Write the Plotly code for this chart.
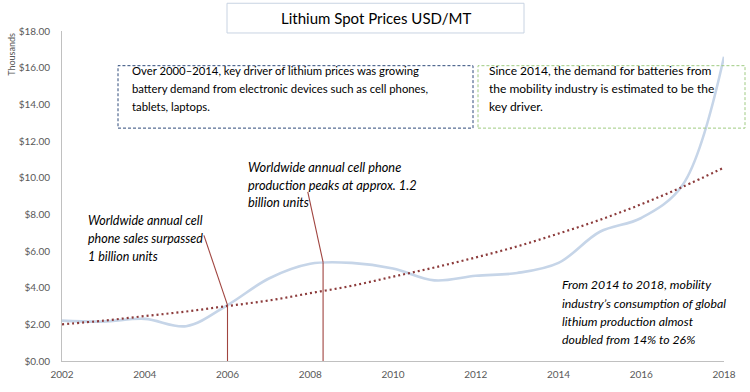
import plotly.graph_objects as go

# ---------------- data ----------------
years = [2002, 2003, 2004, 2005, 2006, 2007, 2008, 2009, 2010,
         2011, 2012, 2013, 2014, 2015, 2016, 2017, 2018]
spot_price = [2.2, 2.15, 2.3, 1.9, 3.05, 4.5, 5.3, 5.35, 5.05,
              4.4, 4.65, 4.8, 5.35, 7.05, 7.8, 9.6, 16.6]
trend_price = [2.0, 2.2, 2.45, 2.7, 3.0, 3.3, 3.7, 4.1, 4.6,
               5.1, 5.65, 6.25, 6.95, 7.7, 8.55, 9.5, 10.55]
x_ticks = [2002, 2004, 2006, 2008, 2010, 2012, 2014, 2016, 2018]
y_ticks = [0, 2, 4, 6, 8, 10, 12, 14, 16, 18]

event_years = [2006.0, 2008.31]
event_prices = [3.05, 5.39]
callout_anchor_x = [2005.43, 2007.94]
callout_anchor_y = [6.85, 9.23]

title_text = "Lithium Spot Prices USD/MT"
box1_lines = ["Over 2000\u20132014, key driver of lithium prices was growing",
              "battery demand from electronic devices such as cell phones,",
              "tablets, laptops."]
box2_lines = ["Since 2014, the demand for batteries from",
              "the mobility industry is estimated to be the",
              "key driver."]
note_peak = ["Worldwide annual cell phone",
             "production peaks at approx. 1.2",
             "billion units"]
note_sales = ["Worldwide annual cell",
              "phone sales surpassed",
              "1 billion units"]
note_mobility = ["From 2014 to 2018, mobility",
                 "industry\u2019s consumption of global",
                 "lithium production almost",
                 "doubled from 14% to 26%"]

# ---------------- layout helpers ----------------
W, H = 750, 392
ML, MR, MT, MB = 62, 26, 31, 28
PW, PH = W - ML - MR, H - MT - MB


def px(x):
    return (x - ML) / PW


def py(y):
    return (H - MB - y) / PH


FONT = "Lato"

fig = go.Figure()
fig.add_trace(go.Scatter(
    x=years, y=spot_price, mode="lines",
    line=dict(color="#c6d5e8", width=2.6, shape="spline", smoothing=1.0),
    name="Spot price", hoverinfo="x+y"))
fig.add_trace(go.Scatter(
    x=years, y=trend_price, mode="lines",
    line=dict(color="#8c3b3b", width=2.2, dash="2px,3px", shape="spline"),
    name="Trend", hoverinfo="skip"))

shapes = []
for ex, ey, ax, ay in zip(event_years, event_prices, callout_anchor_x, callout_anchor_y):
    shapes.append(dict(type="line", xref="x", yref="y", x0=ex, y0=0, x1=ex, y1=ey,
                       line=dict(color="#a0443f", width=1.1)))
    shapes.append(dict(type="line", xref="x", yref="y", x0=ex, y0=ey, x1=ax, y1=ay,
                       line=dict(color="#a0443f", width=1.1)))

# title box and text boxes (positions in pixels converted to paper)
shapes.append(dict(type="rect", xref="paper", yref="paper",
                   x0=px(227), x1=px(524), y0=py(33), y1=py(3),
                   line=dict(color="#c8d3e2", width=1), fillcolor="white", layer="below"))
shapes.append(dict(type="rect", xref="paper", yref="paper",
                   x0=px(118), x1=px(473), y0=py(129), y1=py(66),
                   line=dict(color="#2e4a7a", width=1, dash="3px,2px")))
shapes.append(dict(type="rect", xref="paper", yref="paper",
                   x0=px(478), x1=px(745), y0=py(129), y1=py(66),
                   line=dict(color="#9fcb82", width=1, dash="3px,2px")))

annotations = []
annotations.append(dict(xref="paper", yref="paper", x=px(375.5), y=py(18),
                        text=title_text, showarrow=False, xanchor="center", yanchor="middle",
                        font=dict(family=FONT, size=15, color="#000000")))


def add_lines(lines, left, top, step, italic=False, size=12):
    for i, t in enumerate(lines):
        txt = "<i>" + t + "</i>" if italic else t
        annotations.append(dict(xref="paper", yref="paper", x=px(left), y=py(top + i * step),
                                text=txt, showarrow=False, xanchor="left", yanchor="middle",
                                font=dict(family=FONT, size=size, color="#000000")))


add_lines(box1_lines, 130, 71, 18, size=11.3)
add_lines(box2_lines, 487, 71, 18, size=12)
add_lines(note_peak, 246, 168, 18, italic=True, size=12.8)
add_lines(note_sales, 86, 222, 18.5, italic=True, size=12.5)
add_lines(note_mobility, 560, 287, 18.5, italic=True, size=12.3)

annotations.append(dict(xref="paper", yref="paper", x=px(12), y=py(55),
                        text="Thousands", showarrow=False, textangle=-90,
                        xanchor="center", yanchor="middle",
                        font=dict(family=FONT, size=9, color="#595959")))

fig.update_layout(
    width=W, height=H,
    margin=dict(l=ML, r=MR, t=MT, b=MB),
    paper_bgcolor="white", plot_bgcolor="white",
    showlegend=False,
    shapes=shapes, annotations=annotations,
    xaxis=dict(range=[2002, 2018], tickvals=x_ticks, showgrid=False, zeroline=False,
               showline=True, linecolor="#c0c0c0", linewidth=1, ticks="",
               ticklabelstandoff=4,
               tickfont=dict(family=FONT, size=10, color="#595959")),
    yaxis=dict(range=[0, 18], tickvals=y_ticks, tickformat="$.2f", showgrid=False,
               zeroline=False, showline=True, linecolor="#c0c0c0", linewidth=1, ticks="",
               ticklabelstandoff=9,
               tickfont=dict(family=FONT, size=10, color="#595959")),
)

fig.write_html("out.html", config={"displayModeBar": False},
               post_script="document.body.style.margin='0px';document.body.style.overflow='hidden';")
